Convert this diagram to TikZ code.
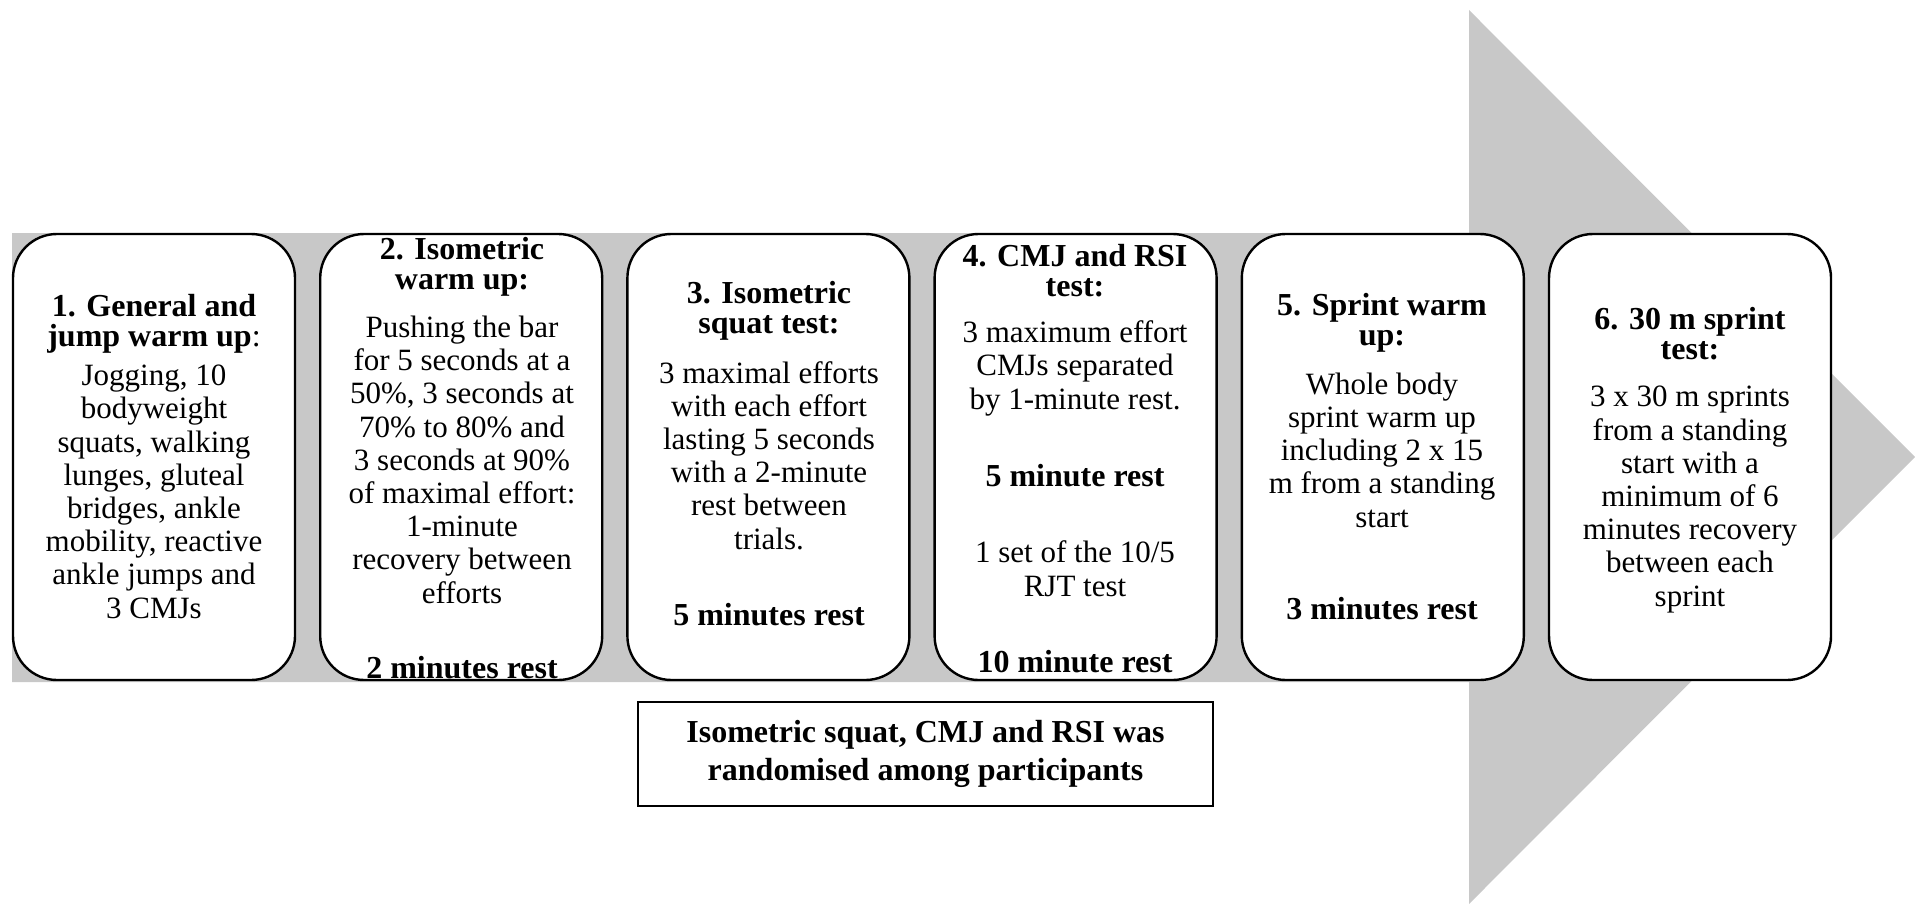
\documentclass[tikz,border=0pt]{standalone}
\usepackage{fontspec}
\setmainfont{Liberation Serif}
\usetikzlibrary{positioning}

\definecolor{bandgrey}{RGB}{200,200,200}

\begin{document}
\begin{tikzpicture}[x=0.5pt, y=-0.5pt,
    stage/.style={draw, line width=1.2pt, fill=white, rounded corners=22pt,
      minimum width=141pt, minimum height=223pt, inner sep=0pt},
    head/.style={font=\bfseries\fontsize{16}{15}\selectfont, align=center,
      anchor=base, inner sep=0pt},
    body/.style={font=\fontsize{15.5}{16.6}\selectfont, align=center,
      anchor=base, inner sep=0pt},
    rest/.style={font=\bfseries\fontsize{16}{16}\selectfont, anchor=base,
      inner sep=0pt}]
  \useasboundingbox (0,0) rectangle (1915,904);
  % grey arrow behind the stages
  \fill[bandgrey] (12,233) -- (1469,233) -- (1469,10) -- (1915,457)
    -- (1469,904) -- (1469,682) -- (12,682) -- cycle;
  \foreach \i in {1,...,6}
    \node[stage] (b\i) at ({154+307.2*(\i-1)},457) {};

  % 1 (base = last line)
  \node[head] (h1) at (154,346) {1. General and\\ jump warm up{\mdseries :}};
  \node[body] (d1) at (154,618) {Jogging, 10\\ bodyweight\\ squats, walking\\
    lunges, gluteal\\ bridges, ankle\\ mobility, reactive\\ ankle jumps and\\ 3 CMJs};
  % 2
  \node[head] (h2) at (462,289) {2. Isometric\\ warm up:};
  \node[body] (d2) at (462,603) {Pushing the bar\\ for 5 seconds at a\\
    50\%, 3 seconds at\\ 70\% to 80\% and\\ 3 seconds at 90\%\\
    of maximal effort:\\ 1-minute\\ recovery between\\ efforts};
  \node[rest] (r2) at (462,678) {2 minutes rest};
  % 3
  \node[head] (h3) at (769,333) {3. Isometric\\ squat test:};
  \node[body] (d3) at (769,549) {3 maximal efforts\\ with each effort\\
    lasting 5 seconds\\ with a 2-minute\\ rest between\\ trials.};
  \node[rest] (r3) at (769,625) {5 minutes rest};
  % 4
  \node[head] (h4) at (1075,296) {4. CMJ and RSI\\ test:};
  \node[body] (d4) at (1075,409) {3 maximum effort\\ CMJs separated\\ by 1-minute rest.};
  \node[rest] (r4) at (1075,486) {5 minute rest};
  \node[body] (e4) at (1075,596) {1 set of the 10/5\\ RJT test};
  \node[rest] (s4) at (1075,672) {10 minute rest};
  % 5
  \node[head] (h5) at (1382,345) {5. Sprint warm\\ up:};
  \node[body] (d5) at (1382,527) {Whole body\\ sprint warm up\\ including 2 x 15\\
    m from a standing\\ start};
  \node[rest] (r5) at (1382,619) {3 minutes rest};
  % 6
  \node[head] (h6) at (1690,359) {6. 30 m sprint\\ test:};
  \node[body] (d6) at (1690,606) {3 x 30 m sprints\\ from a standing\\ start with a\\
    minimum of 6\\ minutes recovery\\ between each\\ sprint};

  \node[draw, line width=0.6pt, minimum width=287.5pt, minimum height=52pt,
    align=center, font=\bfseries\fontsize{16}{19}\selectfont] (note) at (925.5,754)
    {Isometric squat, CMJ and RSI was\\ randomised among participants};
\end{tikzpicture}
\end{document}
